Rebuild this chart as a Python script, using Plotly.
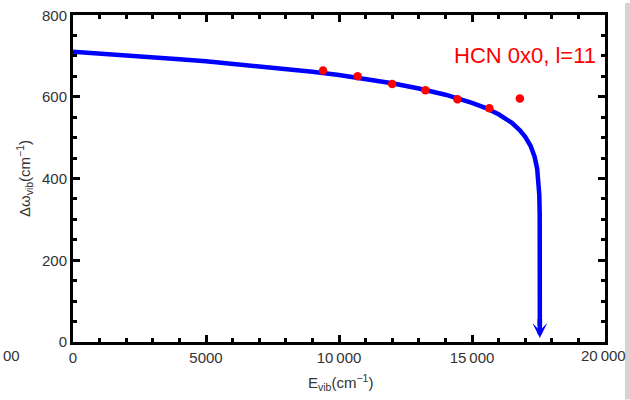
import plotly.graph_objects as go

# Blue fitted curve
E_curve = [0, 1000, 2000, 3000, 4000, 5000, 6000, 7000, 8000, 9000, 10000, 11000,
           12000, 13000, 14000, 15000, 15500, 16000, 16500, 16800, 17000, 17200,
           17350, 17450, 17500, 17530, 17545, 17550]
w_curve = [710, 706, 701, 697, 692, 687, 681, 675, 668, 661, 653, 643,
           633, 620, 605, 585, 573, 557, 536, 518, 502, 480,
           454, 424, 395, 360, 314, 40]

# Red data points
E_pts = [9400, 10700, 12000, 13250, 14450, 15650, 16800]
w_pts = [664, 650, 631, 616, 594, 572, 596]

E_arrow = 17550
w_arrow_tail = 60
w_arrow_head = 10

x_tickvals = [0, 5000, 10000, 15000, 20000]
x_ticktext = ["0", "5000", "10\u2009000", "15\u2009000", ""]
x_last_label = "20\u2009000"
y_tickvals = [0, 200, 400, 600, 800]
y_ticktext = ["0", "200", "400", "600", ""]
y_top_label = "800"
x_title = "E<sub>vib</sub>(cm<sup>\u22121</sup>)"
y_title = "\u0394\u03c9<sub>vib</sub>(cm<sup>\u22121</sup>)"

BLUE = "#0000ff"
RED = "#ff0000"
FONT = "Liberation Sans"
TXT = "#333333"

W, H = 630, 400
L, R, T, B = 73, 25, 12, 58
PW, PH = W - L - R, H - T - B


def px_x(t):
    return (t - L) / PW


def px_y(t):
    return (H - B - t) / PH


fig = go.Figure()
fig.add_trace(go.Scatter(x=E_curve, y=w_curve, mode="lines",
                         line=dict(color=BLUE, width=4.5), hoverinfo="skip"))
fig.add_trace(go.Scatter(x=E_pts, y=w_pts, mode="markers",
                         marker=dict(color=RED, size=8.5), hoverinfo="skip"))

fig.add_annotation(x=E_arrow, y=w_arrow_head, ax=E_arrow, ay=w_arrow_tail,
                   xref="x", yref="y", axref="x", ayref="y",
                   showarrow=True, arrowhead=3, arrowsize=0.55, arrowwidth=4.5,
                   arrowcolor=BLUE, text="")

fig.add_annotation(x=px_x(598), y=px_y(53), xref="paper", yref="paper",
                   text="HCN 0x0, l=11", showarrow=False,
                   xanchor="right", yanchor="middle",
                   font=dict(family=FONT, size=22, color=RED))

axis_common = dict(showline=True, linewidth=3, linecolor="black", mirror="ticks",
                   ticks="inside", ticklen=7, tickwidth=2.5, tickcolor="black",
                   showgrid=False, zeroline=False,
                   tickfont=dict(family=FONT, size=15, color=TXT))

fig.update_xaxes(range=[0, 20000], tickvals=x_tickvals, ticktext=x_ticktext,
                 minor=dict(dtick=1000, ticks="inside", ticklen=4, tickwidth=2.5,
                            tickcolor="black", showgrid=False),
                 **axis_common)
fig.update_yaxes(range=[0, 800], tickvals=y_tickvals, ticktext=y_ticktext,
                 minor=dict(dtick=50, ticks="inside", ticklen=4, tickwidth=2.5,
                            tickcolor="black", showgrid=False),
                 title=dict(text=y_title,
                            font=dict(family=FONT, size=15, color=TXT),
                            standoff=8),
                 **axis_common)

fig.update_layout(width=W, height=H, margin=dict(l=L, r=R, t=T, b=B),
                  paper_bgcolor="white", plot_bgcolor="white", showlegend=False,
                  font=dict(family=FONT))

# x axis title as annotation kept fully inside the page
fig.add_annotation(x=px_x(340), y=px_y(383), xref="paper", yref="paper",
                   text=x_title, showarrow=False, xanchor="center",
                   yanchor="middle", font=dict(family=FONT, size=15, color=TXT))

# top y tick label kept inside the page
fig.add_annotation(x=px_x(68.5), y=px_y(12), xref="paper", yref="paper",
                   text=y_top_label, showarrow=False, xanchor="right",
                   yanchor="middle", font=dict(family=FONT, size=15, color=TXT))

# last x tick label kept inside the page, next to the gray window border
fig.add_annotation(x=px_x(628), y=px_y(356), xref="paper", yref="paper",
                   text=x_last_label, showarrow=False, xanchor="right",
                   yanchor="middle", font=dict(family=FONT, size=15, color=TXT))
fig.add_shape(type="rect", xref="paper", yref="paper",
              x0=px_x(625), x1=px_x(630), y0=px_y(400), y1=px_y(0),
              fillcolor="#d4d4d4", line=dict(width=0), layer="above")
fig.add_annotation(x=px_x(1), y=px_y(356), xref="paper", yref="paper",
                   text="00", showarrow=False, xanchor="left", yanchor="middle",
                   font=dict(family=FONT, size=15, color=TXT))

fig.write_html("out.html")
